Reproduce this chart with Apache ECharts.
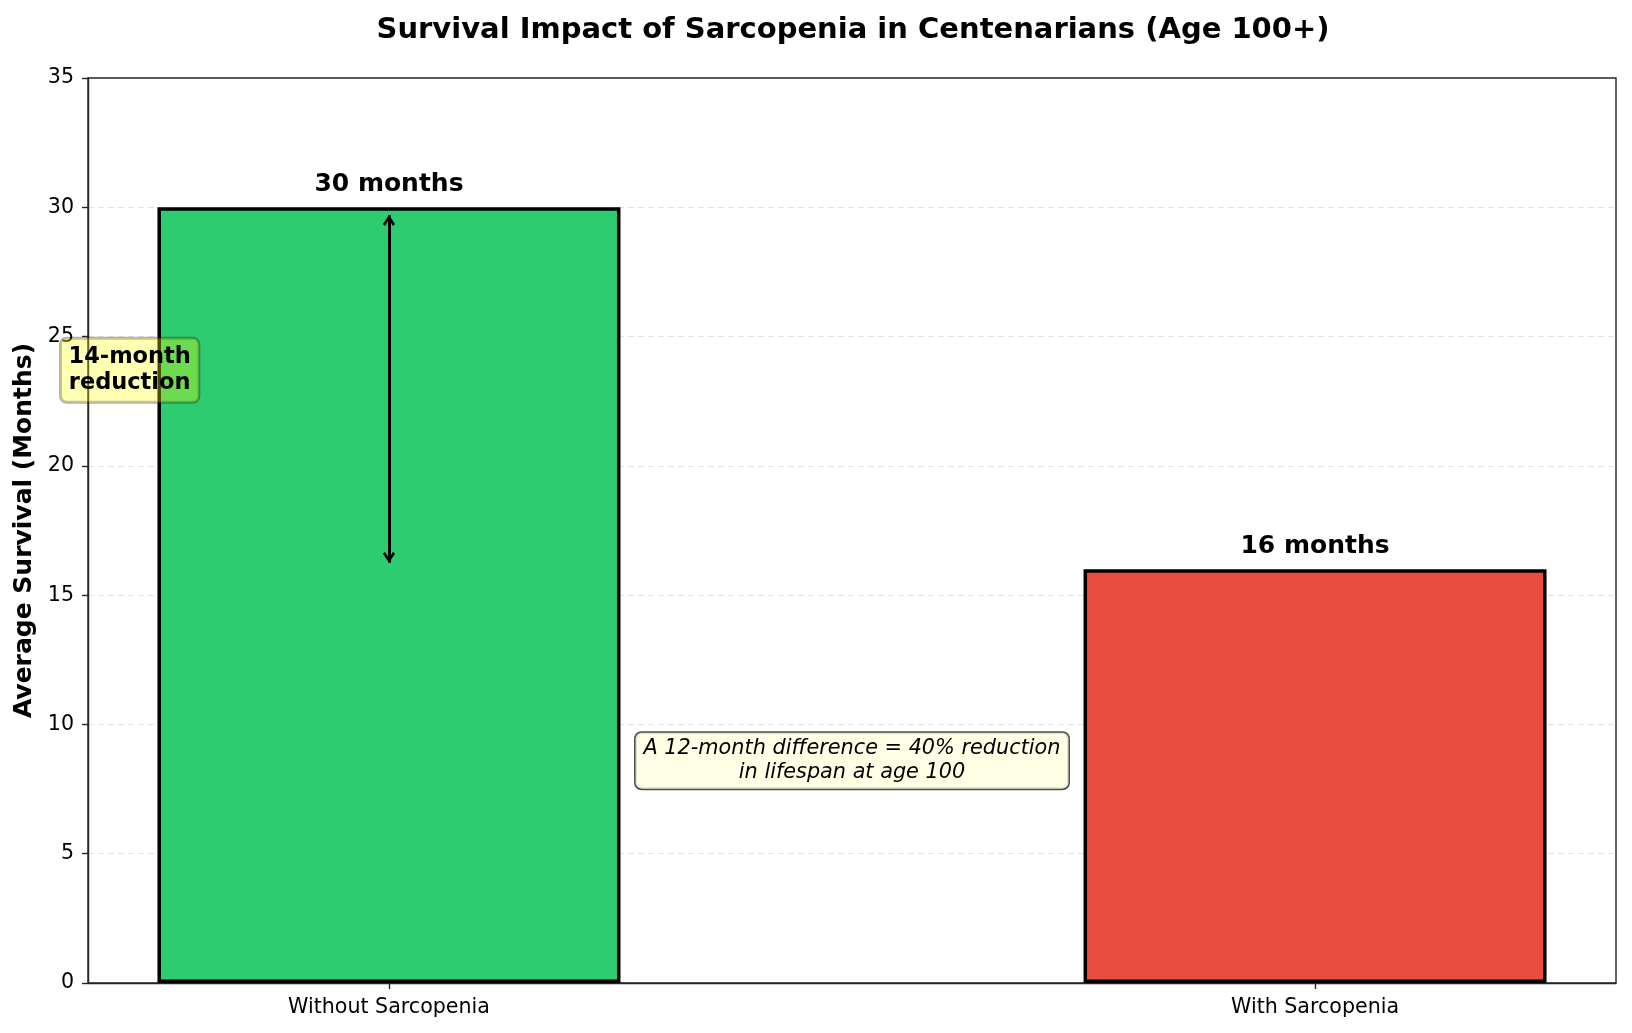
<!DOCTYPE html>
<html>
<head>
<meta charset="utf-8">
<script src="https://cdn.jsdelivr.net/npm/echarts@6/dist/echarts.min.js"></script>
<style>
  html, body { margin: 0; padding: 0; background: #fff; }
  #chart { width: 1632px; height: 1033px; }
</style>
</head>
<body>
<div id="chart"></div>
<script>
// data
var categories = ['Without Sarcopenia', 'With Sarcopenia'];
var survival = [30, 16];
var barColors = ['#2ecc71', '#e74c3c'];
var yMax = 35;
var yStep = 5;
// annotation anchors (data coords)
var reductionPos = [-0.28, 23.7];
var notePos = [0.5, 8.6];
var noteText = 'A 12-month difference = 40% reduction\nin lifespan at age 100';

var reduction = survival[0] - survival[1];

// open arrow head like matplotlib '<->'; tiny dot on top keeps the tip at the symbol centre
var chevron = 'path://M6,0 L6.01,0 L6,0.01 Z M0,20 L6,11 L12,20 L10,22 L6,15.5 L2,22 Z';
// arrow ends stop a little short of the bar values, like annotate's shrink
var arrowShrink = [0.3, 0.25];

var chart = echarts.init(document.getElementById('chart'));

var barData = survival.map(function (v, i) {
  return { value: [i, v], itemStyle: { color: barColors[i] } };
});

var option = {
  animation: false,
  textStyle: { fontFamily: 'DejaVu Sans' },
  title: {
    text: 'Survival Impact of Sarcopenia in Centenarians (Age 100+)',
    left: 848,
    textAlign: 'center',
    top: 11,
    textStyle: { fontSize: 29, fontWeight: 'bold', color: '#000', fontFamily: 'DejaVu Sans' }
  },
  grid: {
    left: 88, right: 16, top: 78, bottom: 50,
    show: true, borderColor: '#262626', borderWidth: 1.4
  },
  xAxis: {
    type: 'value',
    min: -0.325,
    max: 1.325,
    splitLine: { show: false },
    axisLine: { show: true, onZero: false, lineStyle: { color: '#262626', width: 1.4 } },
    axisTick: { show: true, customValues: [0, 1], length: 6, lineStyle: { color: '#262626', width: 1.4 } },
    axisLabel: {
      customValues: [0, 1],
      margin: 14,
      fontSize: 20.6,
      fontFamily: 'DejaVu Sans',
      color: '#000',
      formatter: function (v) { return categories[Math.round(v)]; }
    }
  },
  yAxis: {
    type: 'value',
    min: 0,
    max: yMax,
    interval: yStep,
    name: 'Average Survival (Months)',
    nameLocation: 'middle',
    nameGap: 50,
    nameTextStyle: { fontSize: 25, fontWeight: 'bold', color: '#000', fontFamily: 'DejaVu Sans' },
    axisLine: { show: true, onZero: false, lineStyle: { color: '#262626', width: 1.4 } },
    axisTick: { show: true, length: 6, lineStyle: { color: '#262626', width: 1.4 } },
    axisLabel: { margin: 14, fontSize: 20.6, fontFamily: 'DejaVu Sans', color: '#000' },
    splitLine: { show: true, showMinLine: false, showMaxLine: false, lineStyle: { color: '#e3e3e3', type: [6, 4], width: 1 } }
  },
  series: [
    {
      type: 'bar',
      data: barData,
      barWidth: 463,
      itemStyle: { borderColor: '#000', borderWidth: 3.5 },
      label: {
        show: true,
        position: 'top',
        distance: 10,
        fontSize: 25,
        fontWeight: 'bold',
        color: '#000',
        formatter: function (p) { return p.value[1] + ' months'; }
      },
      markLine: {
        silent: true,
        symbol: [chevron, chevron],
        symbolSize: [12, 22],
        label: { show: false },
        lineStyle: { color: '#000', width: 3, type: 'solid' },
        itemStyle: { color: '#000' },
        data: [[
          { coord: [0, survival[0] - arrowShrink[0]] },
          { coord: [0, survival[1] + arrowShrink[1]] }
        ]]
      },
      z: 2
    },
    {
      type: 'scatter',
      symbolSize: 1,
      itemStyle: { color: 'rgba(0,0,0,0)', opacity: 1 },
      silent: true,
      z: 5,
      data: [
        {
          value: reductionPos,
          label: {
            show: true,
            position: 'inside',
            formatter: reduction + '-month\nreduction',
            fontSize: 22.5,
            fontWeight: 'bold',
            lineHeight: 26,
            color: '#000',
            backgroundColor: 'rgba(255,255,0,0.3)',
            borderColor: 'rgba(0,0,0,0.3)',
            borderWidth: 1.5,
            borderRadius: 6,
            padding: [6, 8]
          }
        },
        {
          value: notePos,
          label: {
            show: true,
            position: 'inside',
            formatter: noteText,
            fontSize: 20.8,
            fontStyle: 'italic',
            lineHeight: 24,
            align: 'center',
            color: '#000',
            backgroundColor: 'rgba(255,255,224,0.85)',
            borderColor: 'rgba(0,0,0,0.7)',
            borderWidth: 1.5,
            borderRadius: 6,
            padding: [4, 8]
          }
        }
      ]
    }
  ]
};

chart.setOption(option);
</script>
</body>
</html>
